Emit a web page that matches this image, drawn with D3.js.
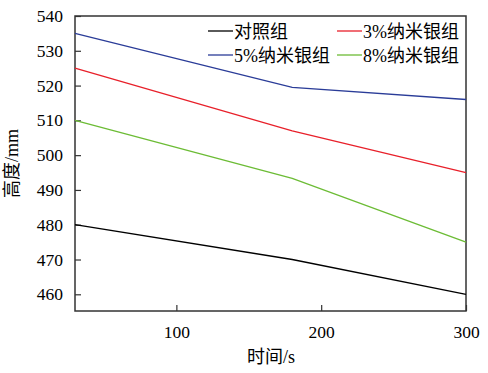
<!DOCTYPE html>
<html>
<head>
<meta charset="utf-8">
<script src="https://cdn.jsdelivr.net/npm/d3@7"></script>
<style>
  body { margin: 0; background: #fff; }
  text { font-family: "Liberation Serif", "Noto Sans CJK SC", serif; fill: #000; }
</style>
</head>
<body>
<div id="chart"></div>
<script>
// data
var times = [30, 180, 300];
var control = [480, 470, 460];
var nano3 = [525, 507, 495];
var nano5 = [535, 519.5, 516];
var nano8 = [510, 493.3, 475];
var seriesNames = ['对照组', '3%纳米银组', '5%纳米银组', '8%纳米银组'];
var seriesColors = ['#000000', '#e8202a', '#2a3c98', '#6cbc35'];
var xTicks = [100, 200, 300];
var yTicks = [460, 470, 480, 490, 500, 510, 520, 530, 540];

var width = 488, height = 373;
var plotLeft = 75, plotRight = 466, plotTop = 16, plotBottom = 311;

var svg = d3.select('#chart')
  .append('svg')
    .attr('width', width)
    .attr('height', height);

var x = d3.scaleLinear().domain([30, 300]).range([plotLeft, plotRight]);
var y = d3.scaleLinear().domain([455.2, 540]).range([plotBottom, plotTop]);

// frame
svg.append('rect')
    .attr('x', plotLeft)
    .attr('y', plotTop)
    .attr('width', plotRight - plotLeft)
    .attr('height', plotBottom - plotTop)
    .attr('fill', 'none')
    .attr('stroke', '#333')
    .attr('stroke-width', 1.5);

// y axis, ticks pointing inward
var yAxis = svg.append('g')
    .attr('transform', 'translate(' + plotLeft + ',0)')
    .call(d3.axisRight(y).tickValues(yTicks).tickSize(6).tickFormat(d3.format('d')));
yAxis.select('.domain').remove();
yAxis.selectAll('line').attr('stroke', '#333').attr('stroke-width', 1.2);
yAxis.selectAll('text')
    .attr('x', -12)
    .style('text-anchor', 'end')
    .attr('font-size', '17.5px');

// x axis
var xAxis = svg.append('g')
    .attr('transform', 'translate(0,' + plotBottom + ')')
    .call(d3.axisTop(x).tickValues(xTicks).tickSize(6).tickFormat(d3.format('d')));
xAxis.select('.domain').remove();
xAxis.selectAll('line').attr('stroke', '#333').attr('stroke-width', 1.2);
xAxis.selectAll('text')
    .attr('y', 27)
    .attr('font-size', '17.5px');

// lines
var allSeries = [control, nano3, nano5, nano8];
var line = d3.line()
    .x(function(d, i) { return x(times[i]); })
    .y(function(d) { return y(d); });

allSeries.forEach(function(vals, i) {
    svg.append('path')
        .datum(vals)
        .attr('fill', 'none')
        .attr('stroke', seriesColors[i])
        .attr('stroke-width', 1.3)
        .attr('d', line);
});

// legend
var legPos = [[208, 31], [337, 31], [208, 55], [337, 55]];
seriesNames.forEach(function(name, i) {
    var p = legPos[i];
    svg.append('line')
        .attr('x1', p[0]).attr('x2', p[0] + 25)
        .attr('y1', p[1]).attr('y2', p[1])
        .attr('stroke', seriesColors[i])
        .attr('stroke-width', 1.3);
    svg.append('text')
        .attr('x', p[0] + 26)
        .attr('y', p[1] + 6.5)
        .attr('font-size', '18px')
        .text(name);
});

// axis titles
svg.append('text')
    .attr('x', 271)
    .attr('y', 363)
    .style('text-anchor', 'middle')
    .attr('font-size', '18px')
    .text('时间/s');

svg.append('text')
    .attr('transform', 'translate(18,' + ((plotTop + plotBottom) / 2) + ') rotate(-90)')
    .style('text-anchor', 'middle')
    .attr('font-size', '18px')
    .text('高度/mm');
</script>
</body>
</html>
